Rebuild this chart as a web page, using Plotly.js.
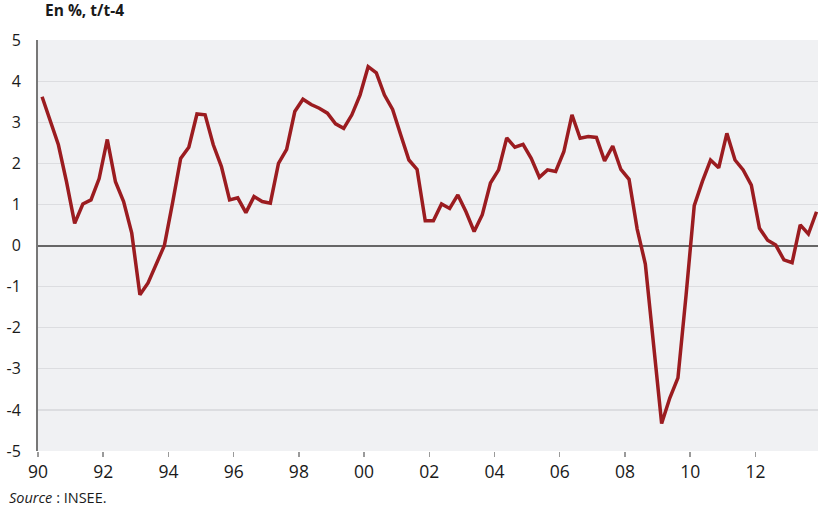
<!DOCTYPE html>
<html>
<head>
<meta charset="utf-8">
<script src="https://cdn.plot.ly/plotly-3.0.1.min.js"></script>
<style>
  body { margin: 0; background: #fff; }
  #chart { width: 818px; height: 509px; }
</style>
</head>
<body>
<div id="chart"></div>
<script>
// quarterly series, 1990 Q1 -> 2013 Q4, en %, t/t-4
var startYear = 1990;
var values = [
	3.62, 3.05, 2.45, 1.55, 0.54, 1.01, 1.11, 1.63,
	2.58, 1.55, 1.07, 0.30, -1.20, -0.91, -0.47, 0.00,
	1.03, 2.12, 2.39, 3.20, 3.18, 2.45, 1.92, 1.11,
	1.16, 0.80, 1.19, 1.07, 1.03, 2.00, 2.34, 3.26,
	3.56, 3.43, 3.34, 3.22, 2.96, 2.85, 3.18, 3.66,
	4.35, 4.20, 3.66, 3.31, 2.69, 2.08, 1.85, 0.60,
	0.60, 1.01, 0.90, 1.23, 0.82, 0.34, 0.75, 1.52,
	1.84, 2.62, 2.39, 2.46, 2.12, 1.66, 1.84, 1.80,
	2.28, 3.18, 2.61, 2.65, 2.63, 2.06, 2.42, 1.85,
	1.61, 0.40, -0.45, -2.30, -4.33, -3.71, -3.22, -1.20,
	0.97, 1.56, 2.08, 1.89, 2.73, 2.08, 1.84, 1.47,
	0.42, 0.13, 0.01, -0.35, -0.42, 0.50, 0.28, 0.82
];
var tickYears = [1990, 1992, 1994, 1996, 1998, 2000, 2002, 2004, 2006, 2008, 2010, 2012];
var tickLabels = ["90", "92", "94", "96", "98", "00", "02", "04", "06", "08", "10", "12"];
var yTicks = [5, 4, 3, 2, 1, 0, -1, -2, -3, -4, -5];
var yLabels = ["5", "4", "3", "2", "1", "0", "-1", "-2", "-3", "-4", "-5"];

// mid-quarter positions
var xs = [];
for (var i = 0; i < values.length; i++) {
	xs.push(startYear + Math.floor(i / 4) + ((i % 4) + 0.5) / 4);
}

var font = "Open Sans, Noto Sans, sans-serif";

var trace = {
	x: xs,
	y: values,
	type: 'scatter',
	mode: 'lines',
	line: { color: '#9b1c20', width: 3.5 },
	hoverinfo: 'skip'
};

var layout = {
	width: 818,
	height: 509,
	margin: { l: 38, r: 0, t: 40, b: 58 },
	paper_bgcolor: '#ffffff',
	plot_bgcolor: '#f0f1f3',
	showlegend: false,
	font: { family: font, color: '#1a1a1a', size: 15 },
	xaxis: {
		range: [1990, 2013.92],
		tickvals: tickYears,
		ticktext: tickLabels,
		ticks: 'outside',
		ticklen: 5,
		tickwidth: 1.5,
		tickcolor: '#9a9a9a',
		showgrid: false,
		zeroline: false,
		showline: false,
		tickfont: { size: 17.5, family: font, color: '#1a1a1a' }
	},
	yaxis: {
		range: [-5, 5],
		tickvals: yTicks,
		ticktext: yLabels,
		showgrid: true,
		gridcolor: '#dcdde0',
		gridwidth: 1.2,
		zeroline: true,
		zerolinecolor: '#666666',
		zerolinewidth: 2,
		showline: true,
		linecolor: '#777777',
		linewidth: 2,
		ticks: '',
		ticklabelstandoff: 12,
		tickfont: { size: 16, family: font, color: '#1a1a1a' }
	},
	annotations: [
		{
			xref: 'paper', yref: 'paper',
			x: 0.006, y: 1.073,
			xanchor: 'left', yanchor: 'middle',
			showarrow: false,
			text: '<b>En %, t/t-4</b>',
			font: { size: 15.5, family: font, color: '#1a1a1a' }
		},
		{
			xref: 'paper', yref: 'paper',
			x: -0.04, y: -0.114,
			xanchor: 'left', yanchor: 'middle',
			showarrow: false,
			text: '<i>Source</i> : INSEE.',
			font: { size: 14.5, family: font, color: '#1a1a1a' }
		}
	]
};

Plotly.newPlot('chart', [trace], layout, { staticPlot: true });
</script>
</body>
</html>
